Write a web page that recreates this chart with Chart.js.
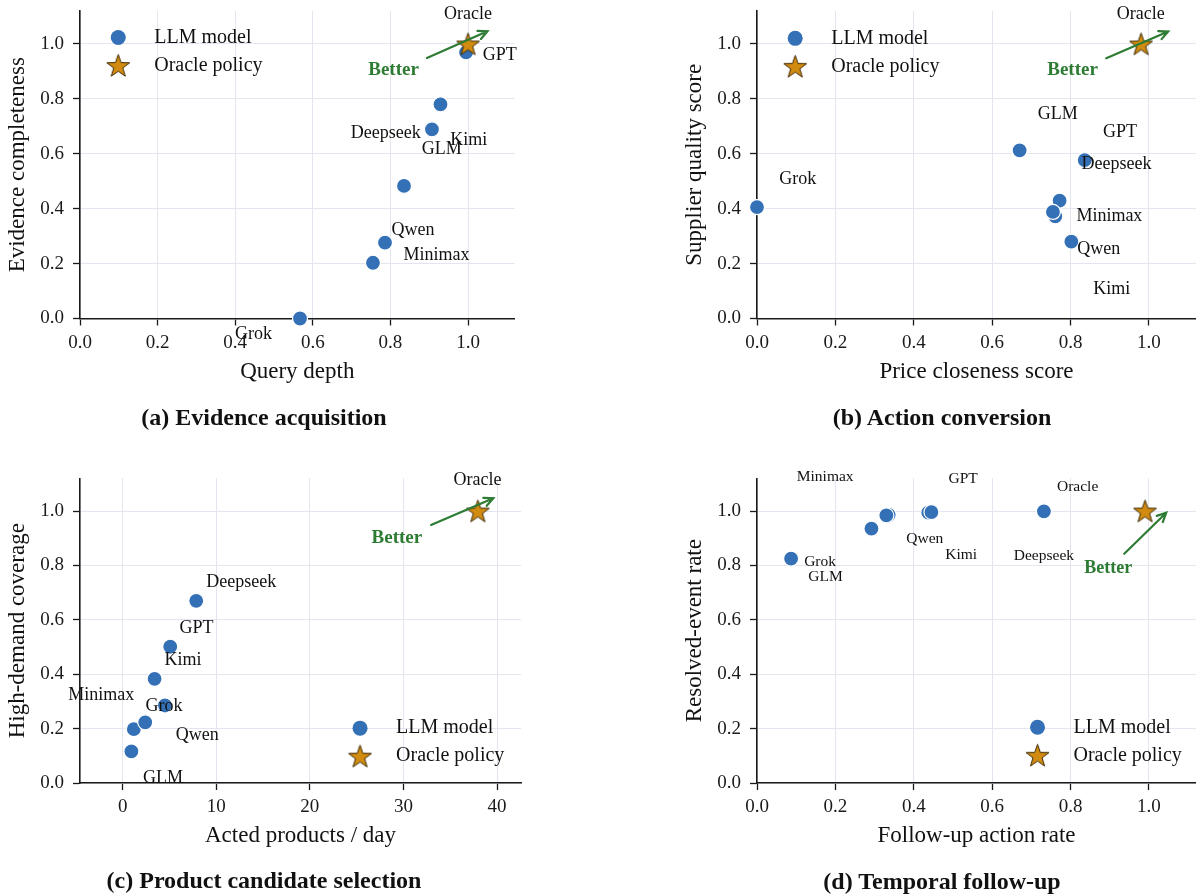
<!DOCTYPE html>
<html>
    <head>
        <meta charset="utf-8">
        <script src="https://cdn.jsdelivr.net/npm/chart.js"></script>
        <title>LLM vs oracle policy</title>
        <style>
            body { margin: 0; background: #fff; width: 1196px; height: 896px; position: relative; overflow: hidden; }
            canvas { position: absolute; }
            .caption {
                position: absolute;
                transform: translate(-50%, -50%);
                font: bold 24px 'Liberation Serif', 'DejaVu Serif', serif;
                color: #111;
                white-space: nowrap;
            }
        </style>
    </head>
    <body>
        <canvas id="chartA" width="598" height="440"></canvas>
        <canvas id="chartB" width="598" height="440"></canvas>
        <canvas id="chartC" width="598" height="440"></canvas>
        <canvas id="chartD" width="598" height="440"></canvas>

        <div class="caption" style="left:264px; top:417px">(a) Evidence acquisition</div>
        <div class="caption" style="left:942px; top:417px">(b) Action conversion</div>
        <div class="caption" style="left:264px; top:880px">(c) Product candidate selection</div>
        <div class="caption" style="left:942px; top:881px">(d) Temporal follow-up</div>

        <script>
            const models = ['GPT', 'Deepseek', 'Kimi', 'GLM', 'Qwen', 'Minimax', 'Grok'];

            // (a) evidence acquisition
            const queryDepth = [0.995, 0.907, 0.929, 0.835, 0.786, 0.755, 0.567];
            const evidenceCompleteness = [0.969, 0.689, 0.780, 0.483, 0.276, 0.203, 0.0];
            const oracleA = [1.0, 1.0];

            // (b) action conversion
            const priceCloseness = [0.836, 0.772, 0.761, 0.670, 0.802, 0.755, 0.0];
            const supplierQuality = [0.577, 0.429, 0.372, 0.612, 0.280, 0.388, 0.406];
            const oracleB = [0.98, 1.0];

            // (c) product candidate selection
            const actedPerDay = [5.08, 7.86, 3.41, 0.93, 1.19, 2.41, 4.52];
            const highDemandCoverage = [0.501, 0.670, 0.383, 0.116, 0.198, 0.223, 0.285];
            const oracleC = [37.95, 1.0];

            // (d) temporal follow-up
            const followUpRate = [0.437, 0.732, 0.445, 0.292, 0.336, 0.330, 0.087];
            const resolvedRate = [0.994, 0.999, 0.996, 0.935, 0.986, 0.984, 0.825];
            const oracleD = [0.99, 1.0];

            const serif = "'Liberation Serif', 'DejaVu Serif', serif";
            const blue = '#3470b6';
            const green = '#2e7b34';

            // where the text labels were placed (data units), like adjustText left them
            const notesA = [['Oracle', 1.0, 1.109], ['GPT', 1.082, 0.96], ['Deepseek', 0.788, 0.673], ['Kimi', 1.002, 0.649],
                ['GLM', 0.932, 0.615], ['Qwen', 0.858, 0.32], ['Minimax', 0.919, 0.231], ['Grok', 0.447, -0.059]];
            const notesB = [['Oracle', 0.979, 1.109], ['GLM', 0.767, 0.745], ['GPT', 0.926, 0.679], ['Deepseek', 0.917, 0.561],
                ['Grok', 0.104, 0.507], ['Minimax', 0.899, 0.373], ['Qwen', 0.872, 0.251], ['Kimi', 0.905, 0.105]];
            const notesC = [['Oracle', 37.9, 1.114], ['Deepseek', 12.68, 0.737], ['GPT', 7.89, 0.568], ['Kimi', 6.45, 0.453],
                ['Minimax', -2.3, 0.321], ['Grok', 4.41, 0.282], ['Qwen', 7.97, 0.177], ['GLM', 4.3, 0.018]];
            const notesD = [['Minimax', 0.174, 1.125], ['GPT', 0.526, 1.119], ['Oracle', 0.818, 1.09], ['Qwen', 0.428, 0.898],
                ['Kimi', 0.521, 0.84], ['Deepseek', 0.732, 0.836], ['Grok', 0.161, 0.813], ['GLM', 0.175, 0.756]];

            function starImage(size){
                const c = document.createElement('canvas');
                c.width = size; c.height = size;
                const g = c.getContext('2d');
                const R = size / 2 - 1.5, r = R * 0.4, cx = size / 2, cy = size / 2 + 1;
                g.beginPath();
                for (let i = 0; i < 10; i++) {
                    const a = -Math.PI / 2 + i * Math.PI / 5;
                    const rr = i % 2 ? r : R;
                    g.lineTo(cx + rr * Math.cos(a), cy + rr * Math.sin(a));
                }
                g.closePath();
                g.fillStyle = '#d18b10';
                g.fill();
                g.lineWidth = 1;
                g.strokeStyle = '#3d2a05';
                g.stroke();
                return c;
            }
            const star = starImage(27);

            const notesPlugin = {
                id: 'notes',
                afterDatasetsDraw(chart, args, opts){
                    const ctx = chart.ctx;
                    const xs = chart.scales.x, ys = chart.scales.y, area = chart.chartArea;
                    const px = v => xs.getPixelForValue(v), py = v => ys.getPixelForValue(v);
                    ctx.save();

                    ctx.font = opts.size + 'px ' + serif;
                    ctx.fillStyle = '#111';
                    ctx.textAlign = 'center';
                    ctx.textBaseline = 'middle';
                    opts.notes.forEach(n => ctx.fillText(n[0], px(n[1]), py(n[2])));

                    // "Better" arrow
                    const b = opts.better;
                    const x0 = px(b.from[0]), y0 = py(b.from[1]), x1 = px(b.to[0]), y1 = py(b.to[1]);
                    const ang = Math.atan2(y1 - y0, x1 - x0);
                    ctx.strokeStyle = green;
                    ctx.lineWidth = 2.2;
                    ctx.lineCap = 'round';
                    ctx.beginPath();
                    ctx.moveTo(x0, y0);
                    ctx.lineTo(x1, y1);
                    ctx.moveTo(x1 - 10 * Math.cos(ang - 0.45), y1 - 10 * Math.sin(ang - 0.45));
                    ctx.lineTo(x1, y1);
                    ctx.lineTo(x1 - 10 * Math.cos(ang + 0.45), y1 - 10 * Math.sin(ang + 0.45));
                    ctx.stroke();
                    ctx.font = 'bold ' + b.size + 'px ' + serif;
                    ctx.fillStyle = green;
                    ctx.fillText('Better', px(b.x), py(b.y));

                    // legend inside the axes
                    const lx = area.left + opts.legend[0] * (area.right - area.left);
                    const ly = area.top + opts.legend[1] * (area.bottom - area.top);
                    ctx.beginPath();
                    ctx.arc(lx, ly, 7.5, 0, Math.PI * 2);
                    ctx.fillStyle = blue;
                    ctx.fill();
                    ctx.drawImage(star, lx - star.width / 2, ly + 28 - star.height / 2);
                    ctx.font = '20px ' + serif;
                    ctx.fillStyle = '#111';
                    ctx.textAlign = 'left';
                    ctx.fillText('LLM model', lx + 36, ly);
                    ctx.fillText('Oracle policy', lx + 36, ly + 28);
                    ctx.restore();
                }
            };

            function points(xv, yv){
                return xv.map((v, i) => ({x: v, y: yv[i]}));
            }

            function noPad(s){
                s.paddingTop = 0; s.paddingBottom = 0; s.paddingLeft = 0; s.paddingRight = 0;
            }

            function makePanel(id, box, area, p){
                const canvas = document.getElementById(id);
                canvas.style.left = box.left + 'px';
                canvas.style.top = box.top + 'px';
                const xScaleH = box.top + box.h - area.b;
                const titleLine = 23 * 1.2;
                return new Chart(canvas, {
                    type: 'scatter',
                    plugins: [notesPlugin],
                    data: {
                        datasets: [
                            {
                                label: 'Oracle policy',
                                data: [{x: p.oracle[0], y: p.oracle[1]}],
                                pointStyle: star,
                                pointRadius: 12,
                                order: 0,
                                clip: false,
                            },
                            {
                                label: 'LLM model',
                                data: points(p.xs, p.ys),
                                pointStyle: 'circle',
                                pointRadius: 7.5,
                                pointBackgroundColor: blue,
                                pointBorderColor: '#ffffff',
                                pointBorderWidth: 1.2,
                                order: 1,
                                clip: false,
                            },
                        ],
                    },
                    options: {
                        responsive: false,
                        animation: false,
                        events: [],
                        layout: {
                            autoPadding: false,
                            padding: {left: 0, top: area.t - box.top, right: box.left + box.w - area.r, bottom: 0}
                        },
                        plugins: {
                            legend: {display: false},
                            tooltip: {enabled: false},
                            notes: {notes: p.notes, size: p.noteSize, better: p.better, legend: p.legend},
                        },
                        scales: {
                            x: {
                                type: 'linear',
                                min: p.xRange[0],
                                max: p.xRange[1],
                                afterFit: s => { s.height = xScaleH; noPad(s); },
                                grid: {color: '#e4e6ef', lineWidth: 1, tickLength: 7, tickColor: '#1a1a1a', tickWidth: 1.3},
                                border: {color: '#1a1a1a', width: 1.6},
                                ticks: {
                                    stepSize: p.xStep,
                                    includeBounds: false,
                                    padding: 6,
                                    color: '#1a1a1a',
                                    font: {family: serif, size: 19},
                                    maxRotation: 0,
                                    callback: p.xFormat,
                                },
                                title: {
                                    display: true,
                                    text: p.xTitle,
                                    color: '#111',
                                    font: {family: serif, size: 23},
                                    padding: {top: 0, bottom: xScaleH - 53 - titleLine / 2},
                                },
                            },
                            y: {
                                type: 'linear',
                                min: 0,
                                max: 1.12,
                                afterFit: s => { s.width = area.l - box.left; noPad(s); },
                                grid: {color: '#e4e6ef', lineWidth: 1, tickLength: 7, tickColor: '#1a1a1a', tickWidth: 1.3},
                                border: {color: '#1a1a1a', width: 1.6},
                                ticks: {
                                    stepSize: 0.2,
                                    includeBounds: false,
                                    padding: 9,
                                    color: '#1a1a1a',
                                    font: {family: serif, size: 19},
                                    callback: v => v.toFixed(1),
                                },
                                title: {
                                    display: true,
                                    text: p.yTitle,
                                    color: '#111',
                                    font: {family: serif, size: 23},
                                    padding: {top: p.yTitleX - box.left - titleLine / 2, bottom: 0},
                                },
                            },
                        },
                    },
                });
            }

            const oneDecimal = v => v.toFixed(1);
            const whole = v => String(v);

            makePanel('chartA', {left: 0, top: 0, w: 598, h: 440}, {l: 80, t: 11, r: 514.6, b: 318.5}, {
                xs: queryDepth, ys: evidenceCompleteness, oracle: oracleA,
                xRange: [0, 1.12], xStep: 0.2, xFormat: oneDecimal,
                xTitle: 'Query depth', yTitle: 'Evidence completeness', yTitleX: 18,
                notes: notesA, noteSize: 18, legend: [0.088, 0.086],
                better: {x: 0.808, y: 0.903, from: [0.894, 0.949], to: [1.05, 1.046], size: 19},
            });

            makePanel('chartB', {left: 598, top: 0, w: 598, h: 440}, {l: 757, t: 11, r: 1196, b: 318.5}, {
                xs: priceCloseness, ys: supplierQuality, oracle: oracleB,
                xRange: [0, 1.12], xStep: 0.2, xFormat: oneDecimal,
                xTitle: 'Price closeness score', yTitle: 'Supplier quality score', yTitleX: 695,
                notes: notesB, noteSize: 18, legend: [0.087, 0.089],
                better: {x: 0.805, y: 0.903, from: [0.891, 0.948], to: [1.049, 1.045], size: 19},
            });

            makePanel('chartC', {left: 0, top: 448, w: 598, h: 440}, {l: 80, t: 478.4, r: 521, b: 783}, {
                xs: actedPerDay, ys: highDemandCoverage, oracle: oracleC,
                xRange: [-4.56, 42.56], xStep: 10, xFormat: whole,
                xTitle: 'Acted products / day', yTitle: 'High-demand coverage', yTitleX: 18,
                notes: notesC, noteSize: 18, legend: [0.635, 0.82],
                better: {x: 29.3, y: 0.9, from: [32.95, 0.949], to: [39.6, 1.047], size: 19},
            });

            makePanel('chartD', {left: 598, top: 448, w: 598, h: 440}, {l: 757, t: 478.4, r: 1196, b: 783}, {
                xs: followUpRate, ys: resolvedRate, oracle: oracleD,
                xRange: [0, 1.12], xStep: 0.2, xFormat: oneDecimal,
                xTitle: 'Follow-up action rate', yTitle: 'Resolved-event rate', yTitleX: 695,
                notes: notesD, noteSize: 15.5, legend: [0.639, 0.817],
                better: {x: 0.896, y: 0.788, from: [0.937, 0.843], to: [1.044, 0.994], size: 18},
            });
        </script>
    </body>
</html>
